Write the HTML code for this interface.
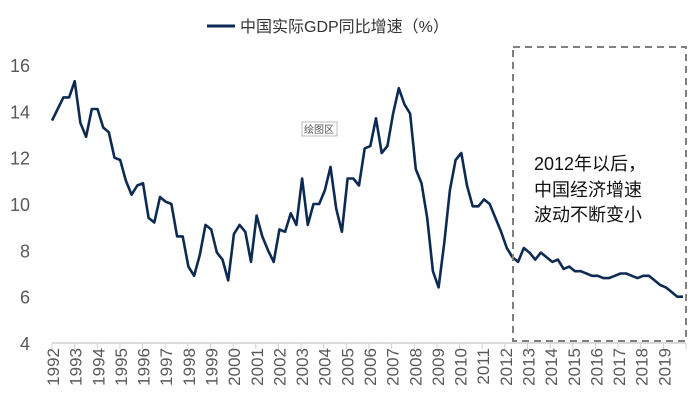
<!DOCTYPE html>
<html><head><meta charset="utf-8"><style>
body{margin:0;background:#fff;}
svg{display:block;font-family:"Liberation Sans","Noto Sans CJK SC",sans-serif;}
</style></head><body>
<svg width="700" height="408" viewBox="0 0 700 408">
<g id="legend">
<line x1="207" y1="26" x2="235" y2="26" stroke="#0d2a52" stroke-width="3"/>
<text x="240" y="32" font-size="16" fill="#333">中国实际GDP同比增速（%）</text>
</g>
<g id="yaxis"></g>
<g id="xaxis"></g>
<g id="plot"></g>
<g>
<rect x="302" y="122" width="35" height="14" fill="#fff" stroke="#aaa" stroke-width="0.8"/>
<text x="304" y="133" font-size="10" fill="#555">绘图区</text>
</g>
<rect x="513" y="47" width="173" height="294" fill="none" stroke="#7f7f7f" stroke-width="2" stroke-dasharray="7,5"/>
<g font-size="18" fill="#111">
<text x="534" y="170">2012年以后，</text>
<text x="534" y="196">中国经济增速</text>
<text x="534" y="221">波动不断变小</text>
</g>
</svg>
<script>
const years = [1992,1993,1994,1995,1996,1997,1998,1999,2000,2001,2002,2003,2004,2005,2006,2007,2008,2009,2010,2011,2012,2013,2014,2015,2016,2017,2018,2019];
const yTicks = [4,6,8,10,12,14,16];
const gdpGrowth = [13.6,14.1,14.6,14.6,15.3,13.5,12.9,14.1,14.1,13.3,13.1,12.0,11.9,11.0,10.4,10.8,10.9,9.4,9.2,10.3,10.1,10.0,8.6,8.6,7.3,6.9,7.8,9.1,8.9,7.9,7.6,6.7,8.7,9.1,8.8,7.5,9.5,8.6,8.0,7.5,8.9,8.8,9.6,9.1,11.1,9.1,10.0,10.0,10.6,11.6,9.8,8.8,11.1,11.1,10.8,12.4,12.5,13.7,12.2,12.5,13.9,15.0,14.3,13.9,11.5,10.9,9.4,7.1,6.4,8.3,10.6,11.9,12.2,10.8,9.9,9.9,10.2,10.0,9.4,8.8,8.1,7.7,7.5,8.1,7.9,7.6,7.9,7.7,7.5,7.6,7.2,7.3,7.1,7.1,7.0,6.9,6.9,6.8,6.8,6.9,7.0,7.0,6.9,6.8,6.9,6.9,6.7,6.5,6.4,6.2,6.0,6.0];
const NS="http://www.w3.org/2000/svg";
const X0=52, X1=686, Y4=343, Y16=65;
const xi = i => X0 + i*(X1-X0-3)/(gdpGrowth.length-1);
const yv = v => Y4 - (v-4)*(Y4-Y16)/12;
const xYear = k => X0 + k*(X1-X0)/years.length;
function mk(tag, attrs, parent){const e=document.createElementNS(NS,tag);for(const k in attrs)e.setAttribute(k,attrs[k]);parent.appendChild(e);return e;}
const ya=document.getElementById('yaxis'), xa=document.getElementById('xaxis'), pl=document.getElementById('plot');
yTicks.forEach(t=>{
  const e=mk('text',{x:30,y:yv(t)+7,'font-size':18,fill:'#595959','text-anchor':'end'},ya);
  e.textContent=t;
  
  
});
mk('line',{x1:X0,y1:Y4,x2:X1,y2:Y4,stroke:'#d0d0d0','stroke-width':1.5},xa);
years.forEach((yr,k)=>{
  const x=xYear(k);
  mk('line',{x1:x,y1:Y4,x2:x,y2:Y4+6,stroke:'#d0d0d0','stroke-width':1},xa);
  const t=mk('text',{x:0,y:0,'font-size':17,fill:'#595959','text-anchor':'end',transform:`translate(${x+7},${Y4+5}) rotate(-90)`},xa);
  t.textContent=yr;
  
  
});
mk('line',{x1:X1,y1:Y4,x2:X1,y2:Y4+6,stroke:'#d0d0d0','stroke-width':1},xa);
const pts=gdpGrowth.map((v,i)=>xi(i).toFixed(1)+','+yv(v).toFixed(1)).join(' ');
const line=mk('polyline',{points:pts,fill:'none',stroke:'#0d2a52','stroke-width':2.6,'stroke-linejoin':'round'},pl);


</script>
</body></html>
